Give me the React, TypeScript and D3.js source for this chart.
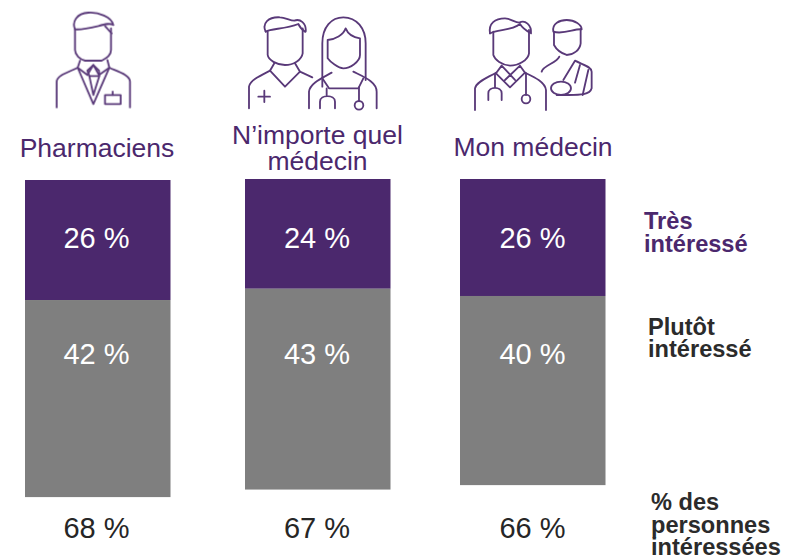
import React from "react";
import * as d3 from "d3";

const categories = ["Pharmaciens", "N’importe quel médecin", "Mon médecin"];
const tres = [25.7, 23.5, 25.05];
const plutot = [42.2, 43.0, 40.5];
const tresLabels = ["26 %", "24 %", "26 %"];
const plutotLabels = ["42 %", "43 %", "40 %"];
const totalLabels = ["68 %", "67 %", "66 %"];
const barLefts = [25, 245, 460];
const barTops = [180, 179, 179];
const labelCenters = [96.5, 317, 532.5];

const PURPLE = "#4b286d";
const GREY = "#7f7f7f";
const FONT = "'Liberation Sans', Arial, sans-serif";
const y = d3.scaleLinear().domain([0, 100]).range([0, 467]);
const BAR_W = 145.5;

const Icon1 = () => (
  <g transform="translate(30,0) scale(0.3333)">
    <path d="M135 88C125 65 140 40 175 38C205 36 245 50 250 75C240 68 225 72 205 78C180 84 155 90 135 88Z" />
    <path d="M225 78C232 85 236 92 245 100" />
    <path d="M135 88L135 150C135 165 150 178 165 182L215 182C230 175 243 165 243 150L243 85" />
    <path d="M150 182L143 203L172 225L190 195L207 225L238 203L232 180" />
    <path d="M190 195L172 212L178 228L190 285L208 228L207 212Z" />
    <path d="M178 228L207 228" />
    <path d="M80 322L80 245C80 225 120 215 143 203L190 312L238 203C265 215 300 225 300 245L300 322" />
    <rect x="225" y="285" width="47" height="27" />
    <path d="M248 275L248 285" />
  </g>
);

const Icon2 = () => (
  <g transform="translate(235,0) scale(0.3333)">
    <path d="M92 95C80 70 100 50 135 52C150 52 165 62 178 62C195 55 215 70 212 95" />
    <path d="M92 95C110 85 150 88 190 72C195 82 198 88 210 95" />
    <path d="M98 95L98 165C100 180 125 195 150 195C175 195 200 180 203 160L203 85" />
    <path d="M118 190L105 212L150 260L195 215L180 190" />
    <path d="M42 325L42 260C45 240 80 225 105 212M195 215L232 232" />
    <path d="M70 290L105 290M88 272L88 306" />
    <path d="M262 260L262 130C262 80 290 52 325 52C365 52 392 85 392 130L392 240" />
    <path d="M278 120L278 175C285 185 310 205 325 205C345 205 375 185 375 165L375 115C355 112 340 105 332 85C325 105 300 118 278 120Z" />
    <path d="M222 325L222 275C225 250 260 235 290 218M355 215C385 230 425 245 425 275L425 325" />
    <path d="M262 235L282 265L370 265L385 235" />
    <path d="M275 265L275 288M255 325L255 305C255 283 300 283 300 305L300 325" />
    <path d="M372 262L372 302" />
    <circle cx="372" cy="316" r="13" />
  </g>
);

const Icon3 = () => (
  <g transform="translate(460,0) scale(0.3333)">
    <path d="M90 100C85 70 105 55 135 55C150 55 165 68 178 68C195 58 215 75 213 100" />
    <path d="M90 100C115 88 155 92 180 72C185 80 195 90 210 98" />
    <path d="M100 95L100 165C105 180 125 195 150 197C175 197 205 180 207 160L207 90" />
    <path d="M125 197L108 220L150 262L195 218L180 197M125 197L165 240M180 197L135 240" />
    <path d="M45 330L45 265C48 245 85 232 108 218M195 218C220 230 255 245 258 270L258 330" />
    <path d="M105 222L105 262M85 300L85 280C85 258 125 258 125 280L125 300" />
    <path d="M198 220L198 285" />
    <circle cx="198" cy="297" r="13" />
    <path d="M280 95C275 70 300 60 320 60C345 60 365 75 365 88C345 85 310 105 280 95Z" />
    <path d="M282 95L282 135C290 150 305 160 320 165C340 165 360 150 362 130L362 88" />
    <path d="M245 215C250 195 290 190 298 170" />
    <path d="M345 182L310 240M345 182C370 195 395 200 395 215L395 265C390 285 360 285 325 285L290 285" />
    <ellipse cx="303" cy="265" rx="30" ry="20" />
    <path d="M360 195L345 248M385 210L368 285" />
  </g>
);

export default function App() {
  return (
    <svg
      width={800}
      height={557}
      style={{ position: "absolute", left: 0, top: 0, background: "#fff" }}
      fontFamily={FONT}
    >
      <g fill="none" stroke={PURPLE} strokeWidth={5.5} strokeLinecap="round" strokeLinejoin="round" opacity={0.92}>
        <Icon1 />
        <Icon2 />
        <Icon3 />
      </g>

      <g fill={PURPLE} fontSize={26.5} textAnchor="middle">
        <text x={97} y={157}>{categories[0]}</text>
        <text x={317.5} y={144}>N’importe quel</text>
        <text x={317.5} y={170}>médecin</text>
        <text x={533} y={156}>{categories[2]}</text>
      </g>

      {categories.map((c, i) => {
        const top = barTops[i];
        const h1 = y(tres[i]);
        const h2 = y(plutot[i]);
        const cx = labelCenters[i];
        return (
          <g key={c}>
            <rect x={barLefts[i]} y={top} width={BAR_W} height={h1} fill={PURPLE} />
            <rect x={barLefts[i]} y={top + h1} width={BAR_W} height={h2} fill={GREY} />
            <text x={cx} y={248} fill="#fff" fontSize={29} textAnchor="middle">{tresLabels[i]}</text>
            <text x={cx} y={364} fill="#fff" fontSize={29} textAnchor="middle">{plutotLabels[i]}</text>
            <text x={cx} y={538} fill="#262626" fontSize={29} textAnchor="middle">{totalLabels[i]}</text>
          </g>
        );
      })}

      <g fontSize={23.6} fontWeight="bold">
        <text fill={PURPLE}>
          <tspan x={644} y={229}>Très</tspan>
          <tspan x={644} y={252}>intéressé</tspan>
        </text>
        <text fill="#2b2b2b">
          <tspan x={648} y={335}>Plutôt</tspan>
          <tspan x={648} y={357}>intéressé</tspan>
        </text>
        <text fill="#2b2b2b">
          <tspan x={651} y={510}>% des</tspan>
          <tspan x={651} y={533}>personnes</tspan>
          <tspan x={651} y={555}>intéressées</tspan>
        </text>
      </g>
    </svg>
  );
}
